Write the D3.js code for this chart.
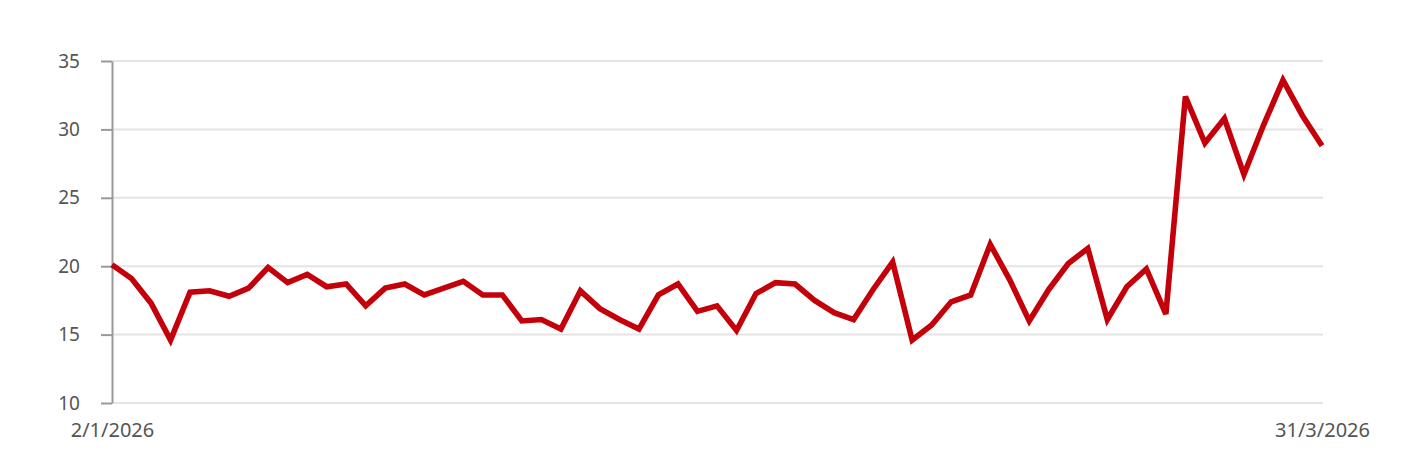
<!DOCTYPE html>
<html>
<head>
<meta charset="utf-8">
<script src="https://cdn.jsdelivr.net/npm/d3@7"></script>
<style>
  body { margin: 0; background: #fff; }
  svg { display: block; font-family: "Noto Sans", "Open Sans", sans-serif; }
</style>
</head>
<body>
<div id="chart"></div>
<script>
// Trading days (weekdays) 2 Jan 2026 - 31 Mar 2026
const dates = [
  "2/1/2026", "5/1/2026", "6/1/2026", "7/1/2026", "8/1/2026", "9/1/2026",
  "12/1/2026", "13/1/2026", "14/1/2026", "15/1/2026", "16/1/2026",
  "19/1/2026", "20/1/2026", "21/1/2026", "22/1/2026", "23/1/2026",
  "26/1/2026", "27/1/2026", "28/1/2026", "29/1/2026", "30/1/2026",
  "2/2/2026", "3/2/2026", "4/2/2026", "5/2/2026", "6/2/2026",
  "9/2/2026", "10/2/2026", "11/2/2026", "12/2/2026", "13/2/2026",
  "16/2/2026", "17/2/2026", "18/2/2026", "19/2/2026", "20/2/2026",
  "23/2/2026", "24/2/2026", "25/2/2026", "26/2/2026", "27/2/2026",
  "2/3/2026", "3/3/2026", "4/3/2026", "5/3/2026", "6/3/2026",
  "9/3/2026", "10/3/2026", "11/3/2026", "12/3/2026", "13/3/2026",
  "16/3/2026", "17/3/2026", "18/3/2026", "19/3/2026", "20/3/2026",
  "23/3/2026", "24/3/2026", "25/3/2026", "26/3/2026", "27/3/2026",
  "30/3/2026", "31/3/2026"
];

const values = [
  20.1, 19.1, 17.3, 14.6, 18.1, 18.2, 17.8, 18.4, 19.9, 18.8,
  19.4, 18.5, 18.7, 17.1, 18.4, 18.7, 17.9, 18.4, 18.9, 17.9,
  17.9, 16.0, 16.1, 15.4, 18.2, 16.9, 16.1, 15.4, 17.9, 18.7,
  16.7, 17.1, 15.3, 18.0, 18.8, 18.7, 17.5, 16.6, 16.1, 18.3,
  20.3, 14.6, 15.7, 17.4, 17.9, 21.6, 19.0, 16.0, 18.3, 20.2,
  21.3, 16.1, 18.5, 19.8, 16.5, 32.4, 29.0, 30.8, 26.7, 30.3,
  33.6, 31.0, 28.8
];

const yTicks = [10, 15, 20, 25, 30, 35];
const xTickLabels = ["2/1/2026", "31/3/2026"];

const W = 1402, H = 452;
const margin = { top: 61, right: 80, bottom: 49, left: 112 };
const width = W - margin.left - margin.right,
      height = H - margin.top - margin.bottom;

const data = dates.map((d, i) => ({ date: d, value: values[i] }));

const svg = d3.select("#chart").append("svg")
  .attr("width", W)
  .attr("height", H)
  .append("g")
  .attr("transform", `translate(${margin.left},${margin.top})`);

const x = d3.scalePoint().domain(dates).range([0, width]);
const y = d3.scaleLinear().domain([10, 35]).range([height, 0]);

// Gridlines
svg.append("g")
  .selectAll("line")
  .data(yTicks)
  .join("line")
  .attr("x1", 0)
  .attr("x2", width + 1)
  .attr("y1", d => y(d))
  .attr("y2", d => y(d))
  .attr("stroke", "#e4e4e4")
  .attr("stroke-width", 2);

// Y axis
const yAxis = svg.append("g")
  .call(d3.axisLeft(y).tickValues(yTicks).tickSize(11).tickPadding(21).tickSizeOuter(0));
yAxis.select(".domain").attr("stroke", "#999").attr("stroke-width", 2);
yAxis.selectAll(".tick line").attr("stroke", "#999").attr("stroke-width", 2);
yAxis.selectAll("text")
  .attr("fill", "#555")
  .style("font-size", "19px")
  .style("font-family", "'Noto Sans', sans-serif");

// X axis labels (first and last only)
const xAxis = svg.append("g")
  .attr("transform", `translate(0,${height})`)
  .call(d3.axisBottom(x).tickValues(xTickLabels).tickSize(0).tickPadding(20));
xAxis.select(".domain").remove();
xAxis.selectAll("text")
  .attr("fill", "#555")
  .style("font-size", "20px")
  .style("font-family", "'Noto Sans', sans-serif");

// Line
const line = d3.line()
  .x(d => x(d.date))
  .y(d => y(d.value));

svg.append("path")
  .datum(data)
  .attr("fill", "none")
  .attr("stroke", "#c4000a")
  .attr("stroke-width", 5.6)
  .attr("stroke-linejoin", "miter")
  .attr("d", line);
</script>
</body>
</html>
